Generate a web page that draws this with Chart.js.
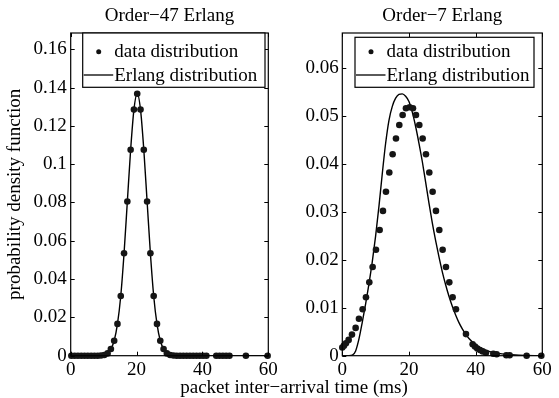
<!DOCTYPE html>
<html><head><meta charset="utf-8">
<script src="https://cdn.jsdelivr.net/npm/chart.js@4/dist/chart.umd.min.js"></script>
<style>
html,body{margin:0;padding:0;background:#fff;width:559px;height:398px;overflow:hidden}
canvas{position:absolute;left:0;top:0}
</style>
</head><body>
<canvas id="c1" width="559" height="398"></canvas>
<canvas id="c2" width="559" height="398"></canvas>
<script>
// ---- text ----
const titles = ["Order−47 Erlang", "Order−7 Erlang"];
const legendLabels = ["data distribution", "Erlang distribution"];
const yAxisLabel = "probability density function";
const xAxisLabel = "packet inter−arrival time (ms)";

// ---- tick labels ----
const xTicks = [0, 20, 40, 60];
const yTicksLeft = [0, 0.02, 0.04, 0.06, 0.08, 0.1, 0.12, 0.14, 0.16];
const yTicksRight = [0, 0.01, 0.02, 0.03, 0.04, 0.05, 0.06];

// ---- left panel: order-47 ----
const leftDataX = [0.2,1.2,2.2,3.2,4.2,5.2,6.2,7.2,8.2,9.2,10.2,11.2,12.2,13.2,14.2,15.2,16.2,17.2,18.2,19.2,20.2,21.2,22.2,23.2,24.2,25.2,26.2,27.2,28.2,29.2,30.2,31.2,32.2,33.2,34.2,35.2,36.2,37.2,38.2,39.2,40.2,41.2,44.2,45.2,46.2,47.2,48.2,53.2,59.8];
const leftDataY = [0,0,0,0,0,0,0,0,0,0.0001,0.0004,0.0012,0.0035,0.0078,0.0166,0.0312,0.0535,0.0805,0.1075,0.1285,0.1368,0.1285,0.1075,0.0805,0.0535,0.0312,0.0166,0.0078,0.0035,0.0012,0.0004,0.0001,0,0,0,0,0,0,0,0,0,0,0,0,0,0,0,0,0];
const leftCurveX = [0,8.2,9.2,10.2,11.2,12.2,13.2,14.2,15.2,16.2,17.2,18.2,19.2,20.2,21.2,22.2,23.2,24.2,25.2,26.2,27.2,28.2,29.2,30.2,31.2,33,60];
const leftCurveY = [0,0,0.0001,0.0004,0.0012,0.0035,0.0078,0.0166,0.0312,0.0535,0.0805,0.1075,0.1285,0.1370,0.1285,0.1075,0.0805,0.0535,0.0312,0.0166,0.0078,0.0035,0.0012,0.0004,0.0001,0,0];

// ---- right panel: order-7 ----
const rightDataX = [0,0.5,1.1,1.9,2.9,4,5,6.1,7.1,8.1,9.1,10.1,11.2,12.2,13.1,14.1,15.1,16.1,17.1,18.1,19.1,20.2,21.2,22.1,23.1,24.1,25.1,26.1,27.1,28.1,29.1,30.1,31.1,32.1,33.1,34.1,37.1,39.1,39.8,40.5,41.3,42.1,43.1,45.3,46.3,49.2,50.2,55.3,59.7];
const rightDataY = [0.0017,0.0021,0.0026,0.0033,0.0044,0.0058,0.0077,0.0097,0.0122,0.0153,0.0185,0.0221,0.0262,0.0302,0.0342,0.0382,0.0420,0.0453,0.0481,0.0502,0.0516,0.0518,0.0516,0.0502,0.0481,0.0453,0.0420,0.0382,0.0342,0.0302,0.0262,0.0221,0.0185,0.0153,0.0122,0.0097,0.0045,0.0024,0.0019,0.0015,0.0012,0.0009,0.0006,0.0004,0.0003,0.0001,0.0001,0,0];
const rightCurveX = [0,2,3,4,5,6,7,8,9,10,11,12,13,14,15,16,17,18,19,20,21,22,23,24,25,26,27,28,29,30,31,32,33,34,35,36,37,38,40,42,45,49,53,60];
const rightCurveY = [0,0,0.0001,0.0010,0.0035,0.0070,0.0108,0.0150,0.0196,0.0250,0.0312,0.0380,0.0443,0.0491,0.0520,0.0537,0.0545,0.0546,0.0541,0.0530,0.0508,0.0478,0.0443,0.0405,0.0362,0.0318,0.0277,0.0240,0.0206,0.0175,0.0148,0.0124,0.0103,0.0085,0.0069,0.0056,0.0045,0.0036,0.0023,0.0014,0.0007,0.0003,0.0001,0];

const FONT = '"Liberation Serif", "Times New Roman", serif';
Chart.defaults.font.family = FONT;
Chart.defaults.font.size = 19;
Chart.defaults.color = '#000';

const pts = (xs, ys) => xs.map((x, i) => ({x: x, y: ys[i]}));

const framePlugin = {
  id: 'frame',
  afterDatasetsDraw(chart) {
    const o = chart.options.plugins.frame;
    const {ctx, chartArea: a, scales} = chart;
    ctx.save();
    ctx.strokeStyle = '#000';
    ctx.lineWidth = 1;
    const L = 4;
    ctx.beginPath();
    scales.x.ticks.forEach(t => {
      const p = Math.round(scales.x.getPixelForValue(t.value)) + 0.5;
      ctx.moveTo(p, a.bottom); ctx.lineTo(p, a.bottom - L);
      ctx.moveTo(p, a.top); ctx.lineTo(p, a.top + L);
    });
    scales.y.ticks.forEach(t => {
      const p = Math.round(scales.y.getPixelForValue(t.value)) + 0.5;
      ctx.moveTo(a.left, p); ctx.lineTo(a.left + L, p);
      ctx.moveTo(a.right, p); ctx.lineTo(a.right - L, p);
    });
    ctx.stroke();
    ctx.lineWidth = 1.2;
    ctx.strokeRect(a.left, a.top, a.right - a.left, a.bottom - a.top);

    ctx.font = '19px ' + FONT;
    ctx.fillStyle = '#000';
    ctx.textAlign = 'center';
    ctx.textBaseline = 'middle';
    ctx.fillText(o.title, (a.left + a.right) / 2, o.titleY);

    const bx0 = a.left + o.lg.l, bx1 = a.right - o.lg.r, by0 = a.top + o.lg.t, by1 = a.top + o.lg.b;
    ctx.fillStyle = '#fff';
    ctx.fillRect(bx0, by0, bx1 - bx0, by1 - by0);
    ctx.lineWidth = 1.2;
    ctx.strokeStyle = '#000';
    ctx.strokeRect(bx0, by0, bx1 - bx0, by1 - by0);
    const r1 = a.top + o.lg.row1, r2 = a.top + o.lg.row2;
    ctx.fillStyle = '#111';
    ctx.beginPath();
    ctx.arc(bx0 + 16, r1, 2.5, 0, Math.PI * 2);
    ctx.fill();
    ctx.beginPath();
    ctx.lineWidth = 1.3;
    ctx.moveTo(bx0 + 1, r2); ctx.lineTo(bx0 + 30.5, r2);
    ctx.stroke();
    ctx.fillStyle = '#000';
    ctx.textAlign = 'left';
    ctx.fillText(legendLabels[0], bx0 + 31.5, r1 + 0.8);
    ctx.fillText(legendLabels[1], bx0 + 31.5, r2 + 0.8);

    if (o.yLabel) {
      ctx.save();
      ctx.translate(o.yLabelX, (a.top + a.bottom) / 2);
      ctx.rotate(-Math.PI / 2);
      ctx.textAlign = 'center';
      ctx.fillText(o.yLabel, 0, 0);
      ctx.restore();
    }
    if (o.xLabel) {
      ctx.textAlign = 'center';
      ctx.fillText(o.xLabel, o.xLabelX, o.xLabelY);
    }
    ctx.restore();
  }
};

function makeChart(id, c) {
  return new Chart(document.getElementById(id), {
    type: 'scatter',
    data: {
      datasets: [
        {type: 'line', data: pts(c.cx, c.cy), borderColor: '#000', borderWidth: 1.4,
         pointRadius: 0, fill: false, cubicInterpolationMode: 'monotone', order: 2},
        {type: 'scatter', data: pts(c.dx, c.dy), backgroundColor: '#151515', borderColor: '#151515',
         borderWidth: 0, pointRadius: 3.3, clip: false, order: 1}
      ]
    },
    options: {
      responsive: false, animation: false, devicePixelRatio: 1, events: [],
      layout: {padding: {left: c.padLeft, right: c.padRight, top: 33, bottom: 0}},
      plugins: {
        legend: {display: false}, tooltip: {enabled: false}, title: {display: false},
        frame: {title: c.title, titleY: 16.5, lg: c.lg, yLabel: c.yLabel, yLabelX: 15,
                xLabel: c.xLabel, xLabelX: 294, xLabelY: 388}
      },
      scales: {
        x: {
          type: 'linear', min: 0, max: 60,
          grid: {display: false, drawTicks: false}, border: {display: false},
          ticks: {padding: 3, maxRotation: 0, color: '#000', callback: v => String(v)},
          afterBuildTicks: s => { s.ticks = xTicks.map(v => ({value: v})); },
          afterFit: s => { s.height = 42.3; }
        },
        y: {
          type: 'linear', min: 0, max: c.ymax,
          grid: {display: false, drawTicks: false}, border: {display: false},
          ticks: {padding: c.yPad, color: '#000', callback: v => String(v)},
          afterBuildTicks: s => { s.ticks = c.yTicks.map(v => ({value: v})); },
          afterFit: s => { s.width = c.yWidth; }
        }
      }
    },
    plugins: [framePlugin]
  });
}

makeChart('c1', {
  cx: leftCurveX, cy: leftCurveY, dx: leftDataX, dy: leftDataY,
  ymax: 0.1685, yTicks: yTicksLeft, yWidth: 70.7, yPad: 4,
  padLeft: 0, padRight: 290.7, title: titles[0],
  lg: {l: 12, r: 3.3, t: 0, b: 54.3, row1: 18.7, row2: 42},
  yLabel: yAxisLabel, xLabel: null
});
makeChart('c2', {
  cx: rightCurveX, cy: rightCurveY, dx: rightDataX, dy: rightDataY,
  ymax: 0.0673, yTicks: yTicksRight, yWidth: 42.3, yPad: 3.5,
  padLeft: 300, padRight: 16.7, title: titles[1],
  lg: {l: 12.7, r: 8.3, t: 4.3, b: 54.3, row1: 18.7, row2: 42},
  yLabel: null, xLabel: xAxisLabel
});
</script>
</body></html>
